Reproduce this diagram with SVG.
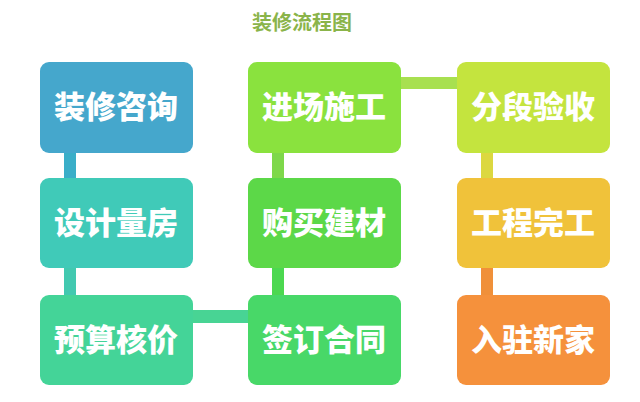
<svg xmlns="http://www.w3.org/2000/svg" width="640" height="402" viewBox="0 0 640 402">
<style>
.b{stroke:none}
.t{font-family:"Noto Sans CJK SC",sans-serif;font-weight:900;font-size:31px;fill:#fff;text-anchor:middle}
</style>
<rect width="640" height="402" fill="#fff"/>
<text x="302" y="30" style="font-family:'Noto Sans CJK SC',sans-serif;font-weight:700;font-size:20px;fill:#8ab44a;text-anchor:middle">装修流程图</text>
<g id="connectors">
<rect x="64" y="153" width="12" height="25" fill="#3aaec8"/>
<rect x="64" y="268" width="12" height="27" fill="#42c9b0"/>
<rect x="193" y="310" width="55" height="13" fill="#48d494"/>
<rect x="272" y="268" width="12" height="27" fill="#4cd850"/>
<rect x="272" y="153" width="12" height="25" fill="#7ed84a"/>
<rect x="401" y="77" width="56" height="12" fill="#a8e050"/>
<rect x="481" y="153" width="12" height="25" fill="#dcd840"/>
<rect x="481" y="268" width="12" height="27" fill="#f0903a"/>
</g>
<g id="n1"><rect x="40" y="62" width="153" height="91" rx="9" fill="#45a7cc"/><text class="t" x="116" y="118">装修咨询</text></g>
<g id="n2"><rect x="40" y="178" width="153" height="90" rx="9" fill="#40cab8"/><text class="t" x="116" y="234">设计量房</text></g>
<g id="n3"><rect x="40" y="295" width="153" height="90" rx="9" fill="#44d498"/><text class="t" x="116" y="351">预算核价</text></g>
<g id="n4"><rect x="248" y="295" width="153" height="90" rx="9" fill="#48d868"/><text class="t" x="324" y="351">签订合同</text></g>
<g id="n5"><rect x="248" y="178" width="153" height="90" rx="9" fill="#5cd848"/><text class="t" x="324" y="234">购买建材</text></g>
<g id="n6"><rect x="248" y="62" width="153" height="91" rx="9" fill="#8ae23e"/><text class="t" x="324" y="118">进场施工</text></g>
<g id="n7"><rect x="457" y="62" width="153" height="91" rx="9" fill="#c4e43e"/><text class="t" x="533" y="118">分段验收</text></g>
<g id="n8"><rect x="457" y="178" width="153" height="90" rx="9" fill="#f0c23a"/><text class="t" x="533" y="234">工程完工</text></g>
<g id="n9"><rect x="457" y="295" width="153" height="90" rx="9" fill="#f5913c"/><text class="t" x="533" y="351">入驻新家</text></g>
</svg>
